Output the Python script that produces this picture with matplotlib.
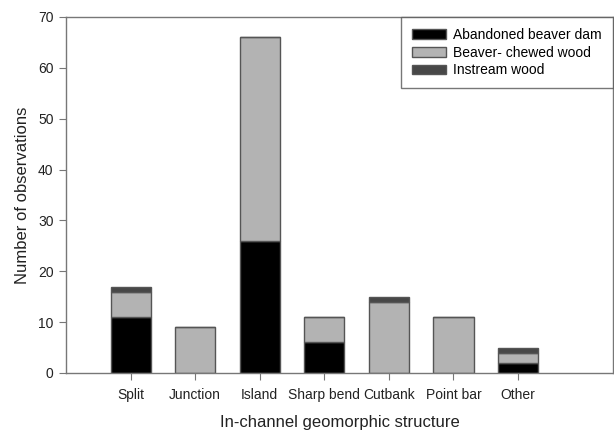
import numpy as np
import matplotlib
matplotlib.use("Agg")
import matplotlib.pyplot as plt

plt.rcParams['font.family'] = ['Liberation Sans', 'DejaVu Sans']

# Observations per in-channel structure
structures = ['Split', 'Junction', 'Island', 'Sharp bend', 'Cutbank', 'Point bar', 'Other']
abandoned_dam = [11, 0, 26, 6, 0, 0, 2]
chewed_wood = [5, 9, 40, 5, 14, 11, 2]
instream_wood = [1, 0, 0, 0, 1, 0, 1]

edge = '#555555'
x = np.arange(len(structures))
w = 0.62

fig = plt.figure(figsize=(6.14, 4.3), dpi=100)
ax = fig.add_axes([66 / 614, 57 / 430, 547 / 614, 356 / 430])

ax.bar(x, abandoned_dam, w, color='black', edgecolor=edge, linewidth=1,
       label='Abandoned beaver dam')
ax.bar(x, chewed_wood, w, bottom=abandoned_dam, color='#b3b3b3',
       edgecolor=edge, linewidth=1, label='Beaver- chewed wood')
bottom2 = np.array(abandoned_dam) + np.array(chewed_wood)
ax.bar(x, instream_wood, w, bottom=bottom2, color='#474747',
       edgecolor=edge, linewidth=1, label='Instream wood')

ax.set_xlim(-1.0, 7.47)
ax.set_ylim(0, 70)
ax.set_yticks(range(0, 71, 10))
ax.set_xticks(x)
ax.set_xticklabels(structures)

for s in ax.spines.values():
    s.set_color('#777777')
    s.set_linewidth(1)
ax.tick_params(direction='out', length=5, color='#777777', labelsize=10,
               labelcolor='#222222', pad=6)
ax.tick_params(axis='y', pad=4)

ax.set_xlabel('In-channel geomorphic structure', fontsize=12, color='#222222', labelpad=9)
ax.set_ylabel('Number of observations', fontsize=12, color='#222222', labelpad=6)

leg = ax.legend(loc='upper right', bbox_to_anchor=(1.0, 1.0), fontsize=10,
                frameon=True, fancybox=False, borderaxespad=0, handlelength=2.45,
                handleheight=0.72, labelspacing=0.26, borderpad=0.8, handletextpad=0.5)
leg.get_frame().set_edgecolor('#555555')
leg.get_frame().set_linewidth(1)

fig.savefig('out.png', dpi=100)
